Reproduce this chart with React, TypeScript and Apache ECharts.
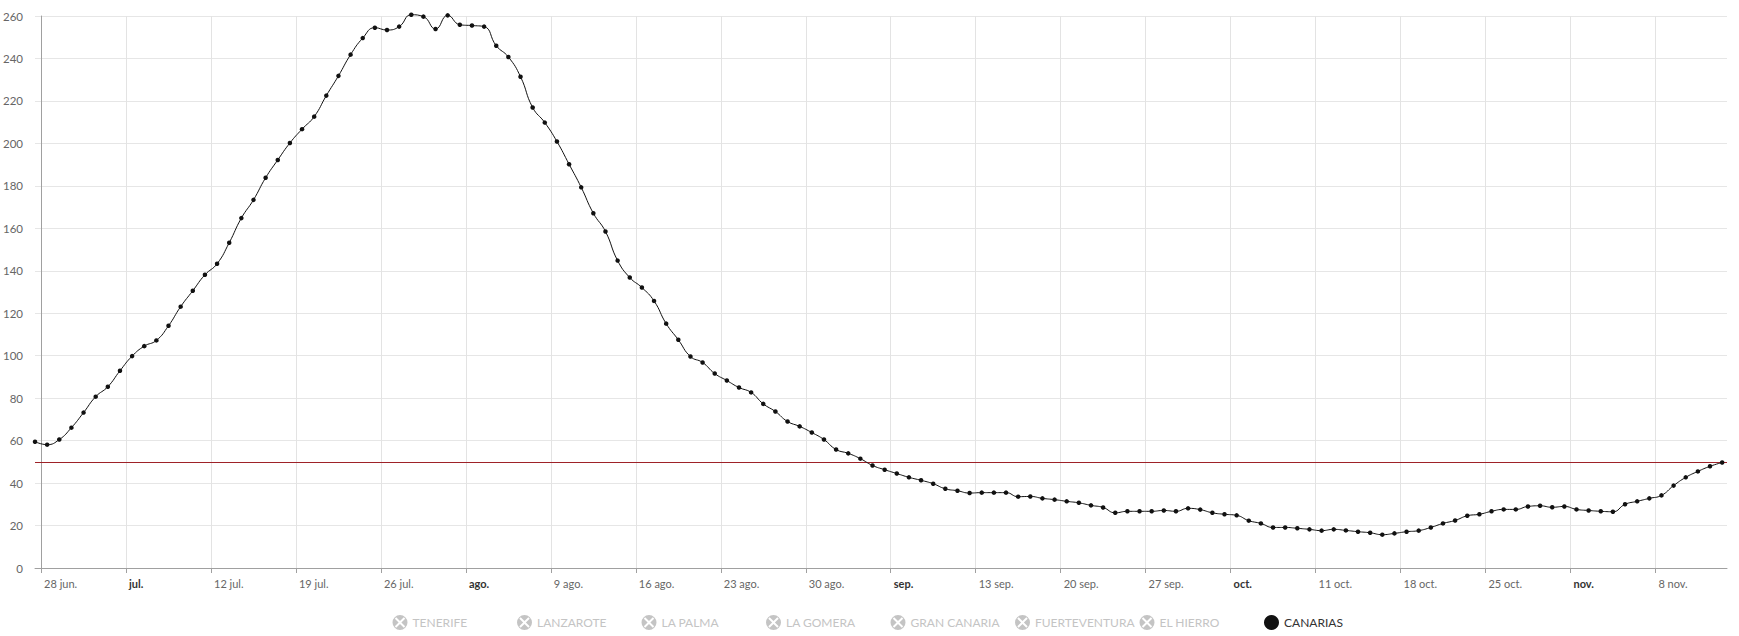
import React, { useEffect, useRef } from "react";
import * as echarts from "echarts";

// Daily values, first point = 27 jun. (noon), last point = 13 nov.
const canarias = [
  59.5, 58.1, 60.5, 66.1, 73.2, 80.7, 85.4, 92.9, 99.8, 104.5,
  107.2, 114.1, 123.1, 130.6, 138.1, 143.3, 153.2, 164.8, 173.4, 183.8,
  192.2, 200.2, 206.7, 212.6, 222.5, 231.8, 241.8, 249.6, 254.5, 253.4,
  255.0, 260.6, 259.7, 253.9, 260.3, 255.9, 255.5, 255.0, 246.0, 240.7,
  231.4, 216.9, 209.8, 200.9, 190.2, 179.3, 167.1, 158.5, 144.8, 136.8,
  132.1, 125.8, 115.1, 107.5, 99.6, 96.8, 91.6, 88.3, 85.0, 82.7,
  77.3, 73.7, 69.0, 66.7, 63.8, 60.5, 55.8, 54.0, 51.5, 48.3,
  46.3, 44.5, 42.7, 41.3, 39.7, 37.3, 36.4, 35.3, 35.5, 35.5,
  35.5, 33.6, 33.7, 32.8, 32.2, 31.4, 30.7, 29.5, 28.5, 26.0,
  26.7, 26.7, 26.7, 27.1, 26.7, 28.1, 27.5, 26.0, 25.3, 24.8,
  22.3, 21.0, 19.1, 19.1, 18.7, 18.2, 17.6, 18.2, 17.7, 17.1,
  16.6, 15.7, 16.3, 17.1, 17.6, 19.1, 21.0, 22.4, 24.6, 25.3,
  26.7, 27.6, 27.6, 29.0, 29.3, 28.6, 29.0, 27.6, 27.1, 26.7,
  26.5, 30.0, 31.4, 32.8, 34.2, 38.8, 42.7, 45.5, 47.9, 49.7,
];

// x axis: days counted from 28 jun. 00:00 (weekly ticks on Mondays)
const tickDays = [0, 7, 14, 21, 28, 35, 42, 49, 56, 63, 70, 77, 84, 91, 98, 105, 112, 119, 126, 133];
const tickLabels = [
  "28 jun.", "jul.", "12 jul.", "19 jul.", "26 jul.", "ago.", "9 ago.", "16 ago.", "23 ago.", "30 ago.",
  "sep.", "13 sep.", "20 sep.", "27 sep.", "oct.", "11 oct.", "18 oct.", "25 oct.", "nov.", "8 nov.",
];
const monthLabels = ["jul.", "ago.", "sep.", "oct.", "nov."];

const legendNames = ["TENERIFE", "LANZAROTE", "LA PALMA", "LA GOMERA", "GRAN CANARIA", "FUERTEVENTURA", "EL HIERRO", "CANARIAS"];
const mainSeries = "CANARIAS";
const threshold = 50;

const hiddenIcon =
  "path://M20,10A10,10,0,1,1,0,10A10,10,0,1,1,20,10ZM15.09,16.93L16.93,15.09L11.84,10L16.93,4.91L15.09,3.07L10,8.16L4.91,3.07L3.07,4.91L8.16,10L3.07,15.09L4.91,16.93L10,11.84Z";

export default function App() {
  const ref = useRef<HTMLDivElement>(null);

  useEffect(() => {
    if (!ref.current) return;
    const chart = echarts.init(ref.current, null, { renderer: "svg" });
    const firstOffset = -0.5; // first point is 27 jun. at noon
    const points = canarias.map((v, i) => [firstOffset + i, v]);

    const legends = legendNames.map((name, i) => ({
      data: [{ name, icon: name === mainSeries ? "circle" : hiddenIcon }],
      left: 392.5 + i * 124.5,
      top: 615,
      padding: 0,
      itemWidth: 15,
      itemHeight: 15,
      inactiveColor: "#c4c4c4",
      inactiveBorderColor: "#c4c4c4",
      selected: { [name]: name === mainSeries },
      textStyle: { fontFamily: "Lato", fontSize: 12, color: "#333" },
    }));

    const series: any[] = legendNames
      .filter((n) => n !== mainSeries)
      .map((name) => ({ name, type: "line", data: [] }));

    series.push({
      name: mainSeries,
      type: "line",
      data: points,
      smooth: true,
      clip: false,
      symbol: "circle",
      symbolSize: 4.5,
      showSymbol: true,
      showAllSymbol: true,
      itemStyle: { color: "#111" },
      lineStyle: { color: "#111", width: 1 },
      z: 3,
      markLine: {
        silent: true,
        symbol: ["none", "none"],
        label: { show: false },
        lineStyle: { color: "#9e2228", width: 1, type: "solid" },
        data: [{ yAxis: threshold }],
        z: 2,
      },
    });

    chart.setOption({
      animation: false,
      legend: legends,
      grid: { left: 35, top: 16, width: 1692, height: 552, containLabel: false },
      xAxis: {
        type: "value",
        min: firstOffset,
        max: 138.9,
        axisLine: { show: true, lineStyle: { color: "#a0a0a0", width: 1 } },
        axisTick: { show: true, customValues: tickDays, length: 5, lineStyle: { color: "#a0a0a0" } },
        axisLabel: {
          customValues: tickDays,
          formatter: (v: number) => {
            const idx = tickDays.indexOf(Math.round(v));
            const label = idx >= 0 ? tickLabels[idx] : "";
            return monthLabels.includes(label) ? `{m|${label}}` : label;
          },
          align: "left",
          padding: [0, 0, 0, 3],
          margin: 10,
          color: "#666",
          fontFamily: "Lato",
          fontSize: 11,
          rich: {
            m: { fontWeight: "bold", color: "#333", fontFamily: "Lato", fontSize: 11 },
          },
        },
        splitLine: { show: true, lineStyle: { color: "#e3e3e3", width: 1 } },
      },
      yAxis: {
        type: "value",
        min: 0,
        max: 260,
        interval: 20,
        axisLine: { show: true, lineStyle: { color: "#a0a0a0", width: 1 } },
        axisTick: { show: false },
        axisLabel: { margin: 12, color: "#666", fontFamily: "Lato", fontSize: 11.5 },
        splitLine: { show: true, lineStyle: { color: "#e6e6e6", width: 1 } },
      },
      series,
    });

    return () => chart.dispose();
  }, []);

  return (
    <div
      ref={ref}
      style={{ position: "absolute", left: 0, top: 0, width: 1739, height: 636, background: "#fff" }}
    />
  );
}
